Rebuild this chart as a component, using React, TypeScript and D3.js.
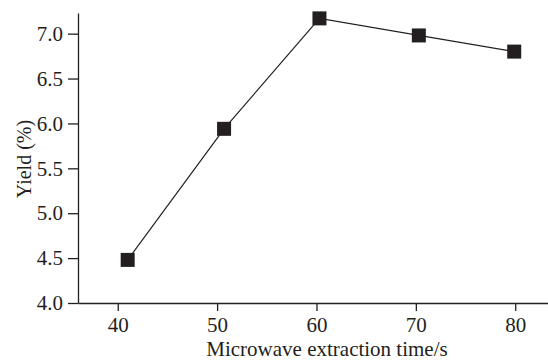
import React, { useEffect, useRef } from 'react'
import * as d3 from 'd3'

const times = [41, 50.7, 60.3, 70.3, 79.9]
const yields = [4.48, 5.94, 7.17, 6.98, 6.8]
const xTicks = [40, 50, 60, 70, 80]
const yTicks = [4.0, 4.5, 5.0, 5.5, 6.0, 6.5, 7.0]

export default function App(): React.ReactElement {
  const chartRef = useRef<HTMLDivElement>(null)

  useEffect(() => {
    const width = 548
    const height = 360
    const marginLeft = 78
    const marginTop = 13
    const marginBottom = 57
    const ink = '#231f20'
    const font = 'Liberation Serif'

    const x = d3.scaleLinear().domain([36, 83.3]).range([marginLeft, width])
    const y = d3
      .scaleLinear()
      .domain([4.0, 7.23])
      .range([height - marginBottom, marginTop])

    d3.select(chartRef.current).select('svg').remove()

    const svg = d3
      .select(chartRef.current)
      .append('svg')
      .attr('width', width)
      .attr('height', height)
      .attr('viewBox', `0 0 ${width} ${height}`)
      .attr('font-family', font)
      .style('display', 'block')
      .style('background', '#fff')

    // x axis
    const gx = svg
      .append('g')
      .attr('transform', `translate(0,${height - marginBottom})`)
      .call(d3.axisBottom(x).tickValues(xTicks).tickSize(8).tickSizeOuter(0).tickPadding(6))
      .attr('font-family', font)
      .attr('font-size', 21)
    gx.select('.domain').attr('stroke', ink).attr('stroke-width', 1.3)
    gx.selectAll('.tick line').attr('stroke', ink).attr('stroke-width', 1.3)
    gx.selectAll('.tick text').attr('fill', ink)

    // y axis
    const gy = svg
      .append('g')
      .attr('transform', `translate(${marginLeft},0)`)
      .call(
        d3
          .axisLeft(y)
          .tickValues(yTicks)
          .tickFormat(d3.format('.1f'))
          .tickSize(10)
          .tickSizeOuter(0)
          .tickPadding(5)
      )
      .attr('font-family', font)
      .attr('font-size', 21)
    gy.select('.domain').attr('stroke', ink).attr('stroke-width', 1.3)
    gy.selectAll('.tick line').attr('stroke', ink).attr('stroke-width', 1.3)
    gy.selectAll('.tick text').attr('fill', ink)

    const data = times.map((t, i) => ({ t, v: yields[i] }))

    const line = d3
      .line<{ t: number; v: number }>()
      .x((d) => x(d.t))
      .y((d) => y(d.v))

    svg
      .append('path')
      .datum(data)
      .attr('fill', 'none')
      .attr('stroke', ink)
      .attr('stroke-width', 1.2)
      .attr('d', line)

    const s = 14
    svg
      .append('g')
      .attr('fill', ink)
      .selectAll('rect')
      .data(data)
      .join('rect')
      .attr('x', (d) => x(d.t) - s / 2)
      .attr('y', (d) => y(d.v) - s / 2)
      .attr('width', s)
      .attr('height', s)

    svg
      .append('text')
      .attr('x', 327)
      .attr('y', 356)
      .attr('text-anchor', 'middle')
      .attr('fill', ink)
      .attr('font-size', 21)
      .text('Microwave extraction time/s')

    svg
      .append('text')
      .attr('transform', `translate(31,159) rotate(-90)`)
      .attr('text-anchor', 'middle')
      .attr('fill', ink)
      .attr('font-size', 20)
      .text('Yield (%)')
  }, [])

  return (
    <div
      ref={chartRef}
      style={{ position: 'absolute', left: 0, top: 0, width: 548, height: 360 }}
    ></div>
  )
}
